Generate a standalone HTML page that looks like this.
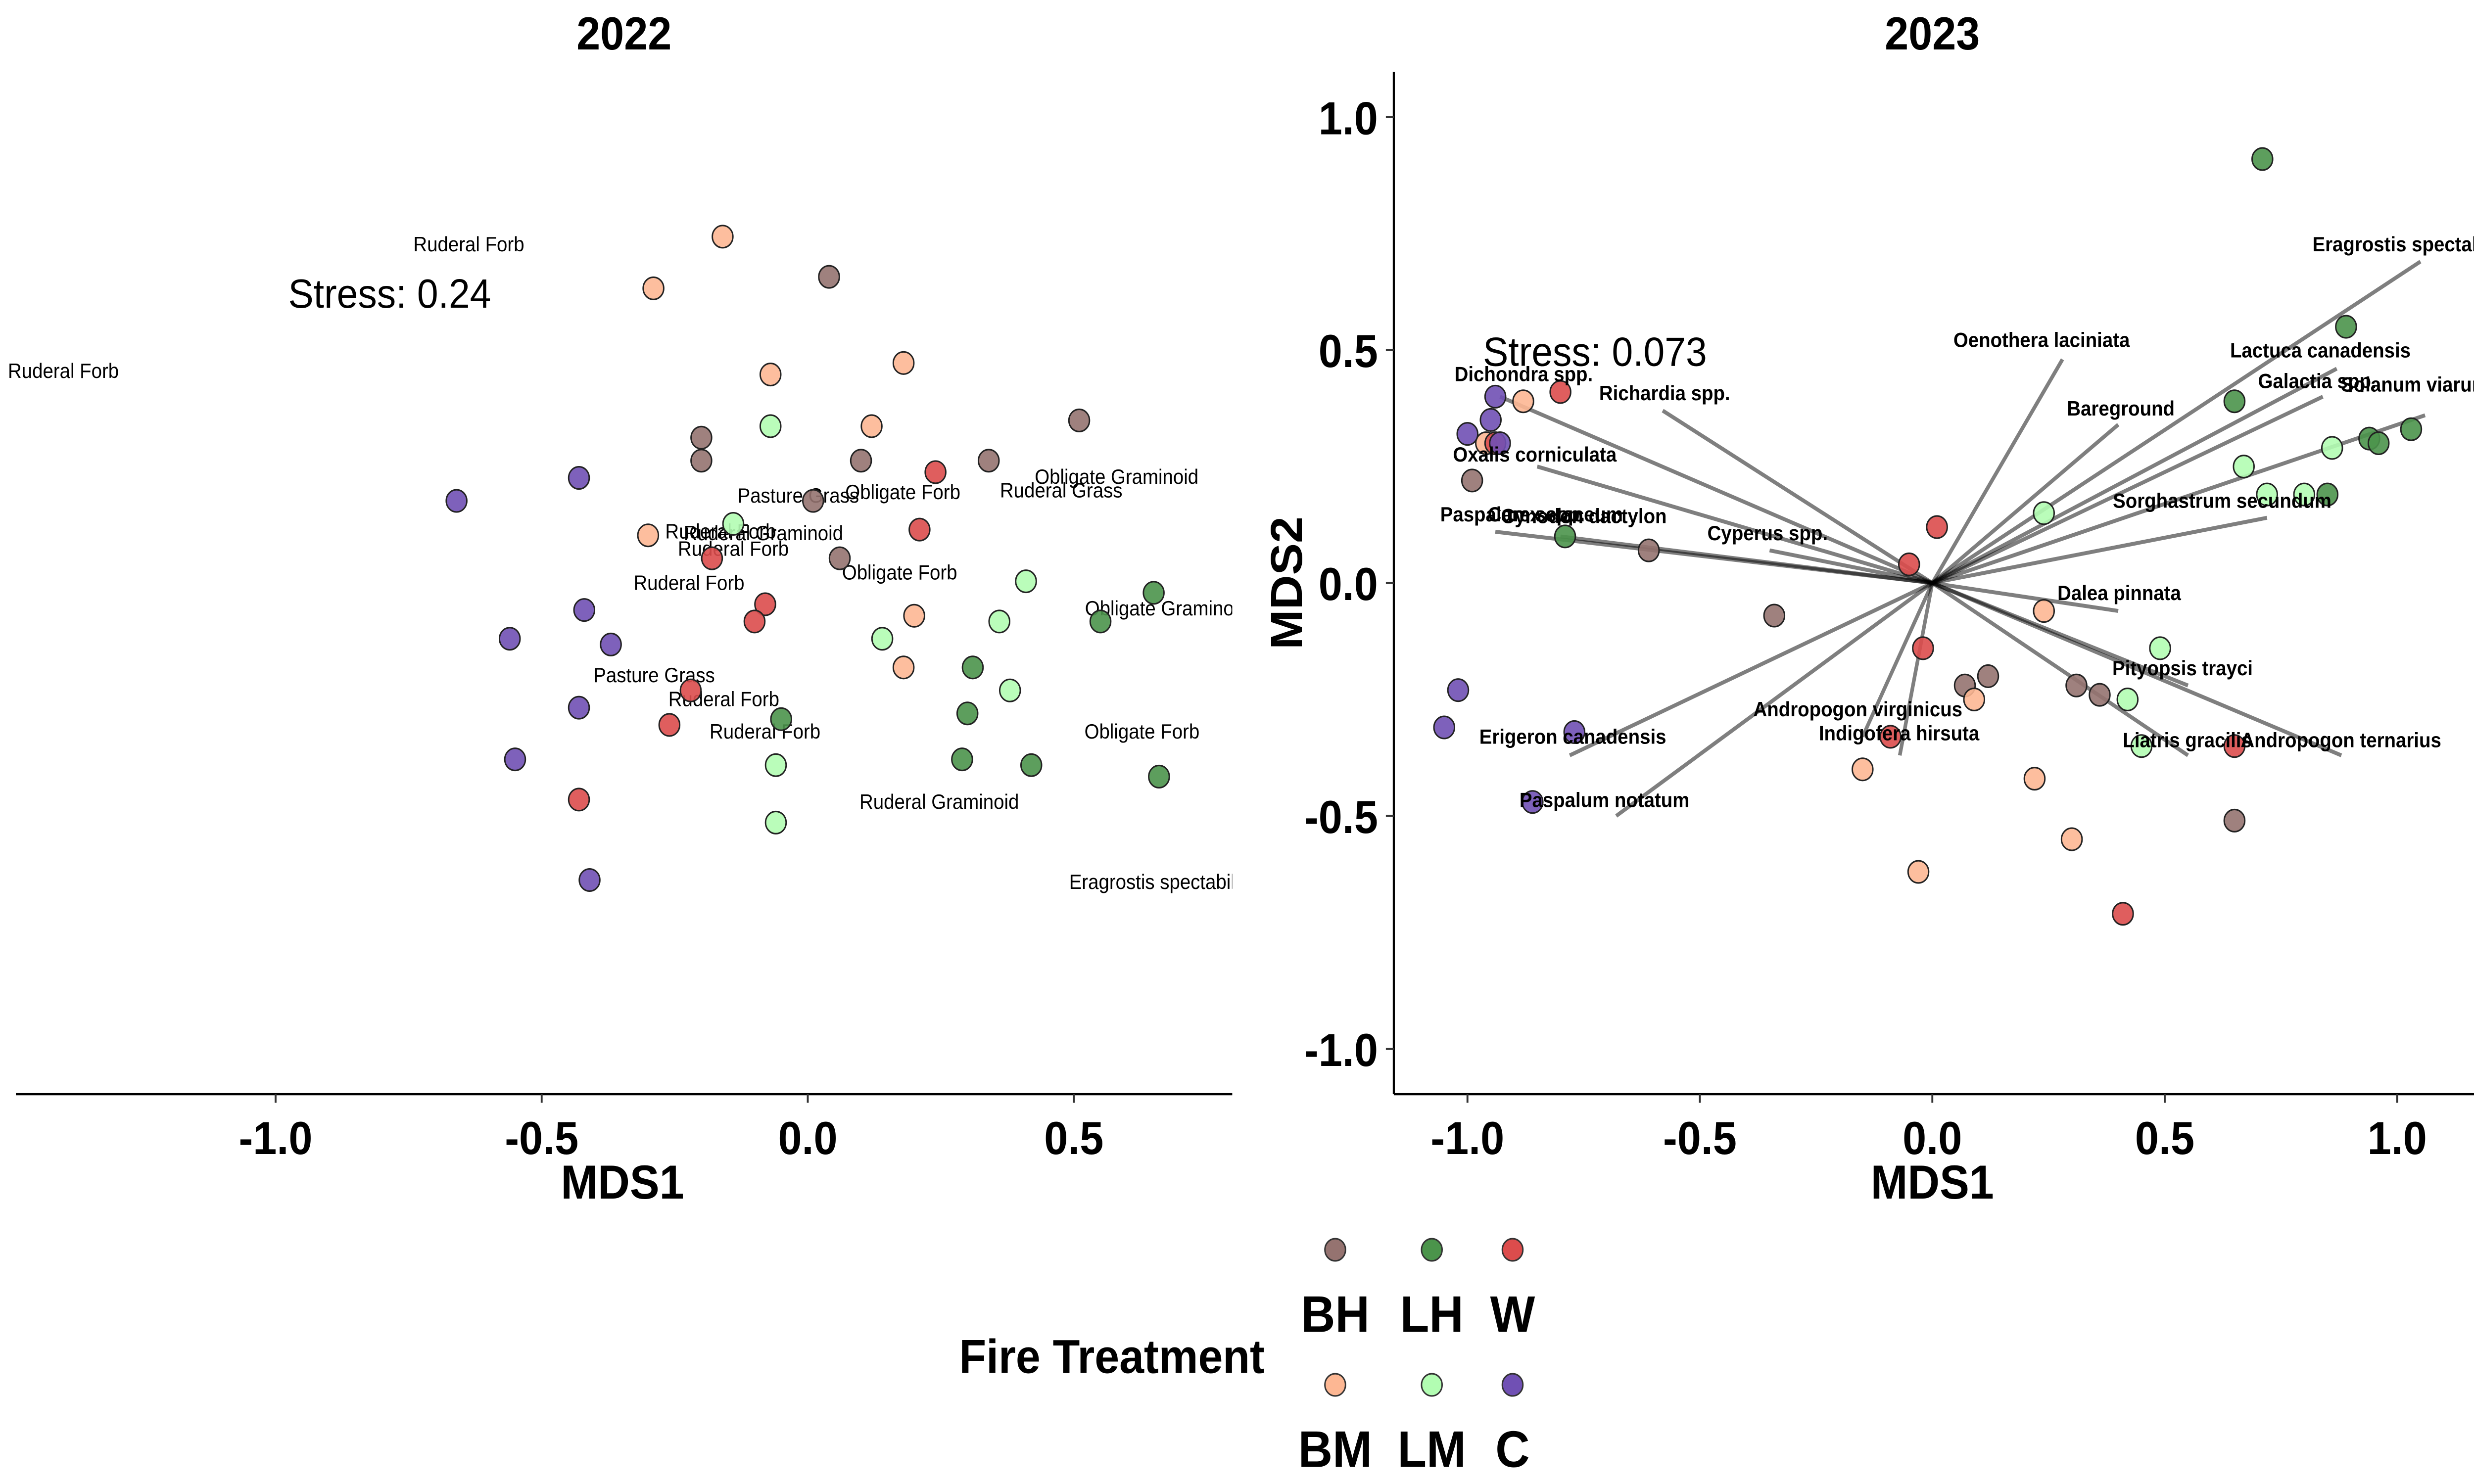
<!DOCTYPE html>
<html><head><meta charset="utf-8"><style>
html,body{margin:0;padding:0;background:#fff;overflow:hidden;width:100%;height:100%;}
svg{display:block;position:fixed;left:0;top:0;width:100vw;height:100vh;}
text{font-family:"Liberation Sans",Arial,sans-serif;}
</style></head><body>
<svg id="chart" viewBox="0 0 1562 868" preserveAspectRatio="none" xmlns="http://www.w3.org/2000/svg">
<defs>
<clipPath id="clipL"><rect x="0" y="30" width="778" height="610"/></clipPath>
<clipPath id="clipR"><rect x="881" y="30" width="681" height="610"/></clipPath>
</defs>
<rect width="1562" height="868" fill="#fff"/>
<g id="left"></g>
<g id="right"></g>
<g id="legend"></g>
</svg>
<script>
const groups = ["BH","BM","W","LH","LM","C"];
const colors = {BH:"#957370",BM:"#fdb793",W:"#dc4c4c",LH:"#4b944b",LM:"#b2fdb2",C:"#7050b4"};
// 2022 scores
const x22_BH=[0.04,-0.20,-0.20,0.10,0.51,0.34,0.01,0.06];
const y22_BH=[0.53,0.25,0.21,0.21,0.28,0.21,0.14,0.04];
const x22_BM=[-0.16,-0.29,-0.07,0.18,0.12,-0.30,0.20,0.18];
const y22_BM=[0.60,0.51,0.36,0.38,0.27,0.08,-0.06,-0.15];
const x22_W=[0.24,0.21,-0.18,-0.08,-0.10,-0.22,-0.26,-0.43];
const y22_W=[0.19,0.09,0.04,-0.04,-0.07,-0.19,-0.25,-0.38];
const x22_LH=[0.55,0.65,0.31,0.30,-0.05,0.29,0.42,0.66];
const y22_LH=[-0.07,-0.02,-0.15,-0.23,-0.24,-0.31,-0.32,-0.34];
const x22_LM=[-0.07,-0.14,0.41,0.36,0.14,0.38,-0.06,-0.06];
const y22_LM=[0.27,0.10,0.00,-0.07,-0.10,-0.19,-0.32,-0.42];
const x22_C=[-0.66,-0.43,-0.42,-0.37,-0.56,-0.43,-0.55,-0.41];
const y22_C=[0.14,0.18,-0.05,-0.11,-0.10,-0.22,-0.31,-0.52];
// 2023 scores
const x23_BH=[-0.99,-0.61,-0.34,0.07,0.12,0.31,0.36,0.65];
const y23_BH=[0.22,0.07,-0.07,-0.22,-0.20,-0.22,-0.24,-0.51];
const x23_BM=[-0.88,-0.96,0.24,0.09,-0.15,0.22,0.30,-0.03];
const y23_BM=[0.39,0.30,-0.06,-0.25,-0.40,-0.42,-0.55,-0.62];
const x23_W=[-0.80,0.01,-0.05,-0.02,-0.09,0.65,0.41,-0.94];
const y23_W=[0.41,0.12,0.04,-0.14,-0.33,-0.35,-0.71,0.30];
const x23_LH=[0.71,0.89,0.65,0.94,0.96,1.03,0.85,-0.79];
const y23_LH=[0.91,0.55,0.39,0.31,0.30,0.33,0.19,0.10];
const x23_LM=[0.67,0.86,0.72,0.80,0.24,0.49,0.42,0.45];
const y23_LM=[0.25,0.29,0.19,0.19,0.15,-0.14,-0.25,-0.35];
const x23_C=[-0.94,-0.95,-0.93,-1.00,-1.02,-1.05,-0.77,-0.86];
const y23_C=[0.40,0.35,0.30,0.32,-0.23,-0.31,-0.32,-0.47];
// 2023 species vectors
const vecNames=["Eragrostis spectabilis","Oenothera laciniata","Lactuca canadensis","Galactia spp.","Solanum viarum","Bareground","Dichondra spp.","Richardia spp.","Oxalis corniculata","Paspalum setaceum","Cynodon dactylon","Cyperus spp.","Sorghastrum secundum","Dalea pinnata","Pityopsis trayci","Andropogon virginicus","Indigofera hirsuta","Liatris gracilis","Andropogon ternarius","Erigeron canadensis","Paspalum notatum"];
const vecX=[1.05,0.28,0.87,0.84,1.06,0.40,-0.93,-0.58,-0.85,-0.94,-0.80,-0.35,0.72,0.40,0.55,-0.15,-0.07,0.55,0.88,-0.78,-0.68];
const vecY=[0.69,0.48,0.46,0.40,0.36,0.34,0.40,0.37,0.25,0.11,0.10,0.07,0.14,-0.06,-0.22,-0.33,-0.37,-0.37,-0.37,-0.37,-0.50];
const xTicks=[-1.0,-0.5,0.0,0.5,1.0];
const xTickLabels=["-1.0","-0.5","0.0","0.5","1.0"];
const yTicks=[1.0,0.5,0.0,-0.5,-1.0];
const yTickLabels=["1.0","0.5","0.0","-0.5","-1.0"];

const NS="http://www.w3.org/2000/svg";
function mk(parent,tag,attrs,txt){const e=document.createElementNS(NS,tag);for(const k in attrs)e.setAttribute(k,attrs[k]);if(txt!==undefined)e.textContent=txt;parent.appendChild(e);return e;}
const d22={BH:[x22_BH,y22_BH],BM:[x22_BM,y22_BM],W:[x22_W,y22_W],LH:[x22_LH,y22_LH],LM:[x22_LM,y22_LM],C:[x22_C,y22_C]};
const d23={BH:[x23_BH,y23_BH],BM:[x23_BM,y23_BM],W:[x23_W,y23_W],LH:[x23_LH,y23_LH],LM:[x23_LM,y23_LM],C:[x23_C,y23_C]};

// ---- Left panel
const L=document.getElementById('left');
const lx=v=>510+v*336, ly=v=>340-v*336;
let t=mk(L,'text',{x:394,y:29,'text-anchor':'middle','font-size':27,'font-weight':'bold'},'2022');


let ax=mk(L,'line',{x1:10,y1:640,x2:778,y2:640,stroke:'#000','stroke-width':1.3});


xTicks.forEach((v,i)=>{if(v>0.8)return;
 const tk=mk(L,'line',{x1:lx(v),y1:640,x2:lx(v),y2:645,stroke:'#333','stroke-width':1.2});
 
 
 const tl=mk(L,'text',{x:lx(v),y:675,'text-anchor':'middle','font-size':27,'font-weight':'bold'},xTickLabels[i]);
 
 });
t=mk(L,'text',{x:393,y:701,'text-anchor':'middle','font-size':28,'font-weight':'bold'},'MDS1');


const gl=mk(L,'g',{'clip-path':'url(#clipL)'});
const lbl22=[["Ruderal Forb",296,147,'middle'],["Ruderal Forb",5,221,'start'],["Pasture Grass",504,294,'middle'],["Obligate Forb",570,292,'middle'],["Ruderal Grass",670,291,'middle'],["Obligate Graminoid",705,283,'middle'],["Ruderal Forb",455,315,'middle'],["Ruderal Graminoid",482,316,'middle'],["Ruderal Forb",463,325,'middle'],["Obligate Forb",568,339,'middle'],["Ruderal Forb",435,345,'middle'],["Obligate Graminoid",685,360,'start'],["Pasture Grass",413,399,'middle'],["Ruderal Forb",457,413,'middle'],["Ruderal Forb",483,432,'middle'],["Obligate Forb",721,432,'middle'],["Ruderal Graminoid",593,473,'middle'],["Eragrostis spectabilis",675,520,'start']];
lbl22.forEach(a=>{const e=mk(gl,'text',{x:a[1],y:a[2],'text-anchor':a[3],'font-size':12},a[0]);
 
 });
t=mk(gl,'text',{x:246,y:180,'text-anchor':'middle','font-size':24},'Stress: 0.24');


groups.forEach(g=>{const [xs,ys]=d22[g];xs.forEach((v,i)=>{
 const c=mk(gl,'circle',{cx:lx(v),cy:ly(ys[i]),r:6.5,fill:colors[g],'fill-opacity':0.9,stroke:'#222','stroke-width':0.9});
 
 });});

// ---- Right panel
const R=document.getElementById('right');
const rx=v=>1220+v*293.5, ry=v=>341-v*272.5;
t=mk(R,'text',{x:1220,y:29,'text-anchor':'middle','font-size':27,'font-weight':'bold'},'2023');


ax=mk(R,'line',{x1:880,y1:640,x2:1562,y2:640,stroke:'#000','stroke-width':1.3});


ax=mk(R,'line',{x1:880,y1:42,x2:880,y2:640,stroke:'#000','stroke-width':1.3});


xTicks.forEach((v,i)=>{
 const tk=mk(R,'line',{x1:rx(v),y1:640,x2:rx(v),y2:645,stroke:'#333','stroke-width':1.2});
 
 
 const tl=mk(R,'text',{x:rx(v),y:675,'text-anchor':'middle','font-size':27,'font-weight':'bold'},xTickLabels[i]);
 
 });
yTicks.forEach((v,i)=>{
 const tk=mk(R,'line',{x1:875,y1:ry(v),x2:880,y2:ry(v),stroke:'#333','stroke-width':1.2});
 
 
 const tl=mk(R,'text',{x:870,y:ry(v)+10,'text-anchor':'end','font-size':27,'font-weight':'bold'},yTickLabels[i]);
 
 });
t=mk(R,'text',{x:1220,y:701,'text-anchor':'middle','font-size':28,'font-weight':'bold'},'MDS1');


t=mk(R,'text',{x:0,y:0,'text-anchor':'middle','font-size':28,'font-weight':'bold',transform:'translate(822,341) rotate(-90)'},'MDS2');


const gr=mk(R,'g',{'clip-path':'url(#clipR)'});
t=mk(gr,'text',{x:1007,y:214,'text-anchor':'middle','font-size':24},'Stress: 0.073');


vecX.forEach((v,i)=>{
 const ln=mk(gr,'line',{x1:rx(0),y1:ry(0),x2:rx(v),y2:ry(vecY[i]),stroke:'#000','stroke-opacity':0.5,'stroke-width':2.3});
 
 });
groups.forEach(g=>{const [xs,ys]=d23[g];xs.forEach((v,i)=>{
 const c=mk(gr,'circle',{cx:rx(v),cy:ry(ys[i]),r:6.5,fill:colors[g],'fill-opacity':0.9,stroke:'#222','stroke-width':0.9});
 
 });});
const lbl23=[[1460,147,'start'],[1289,203,'middle'],[1465,209,'middle'],[1463,227,'middle'],[1478,229,'start'],[1339,243,'middle'],[962,223,'middle'],[1051,234,'middle'],[969,270,'middle'],[967,305,'middle'],[1000,306,'middle'],[1116,316,'middle'],[1403,297,'middle'],[1338,351,'middle'],[1378,395,'middle'],[1173,419,'middle'],[1199,433,'middle'],[1381,437,'middle'],[1478,437,'middle'],[993,435,'middle'],[1013,472,'middle']];
vecNames.forEach((n,i)=>{const a=lbl23[i];
 const e=mk(gr,'text',{x:a[0],y:a[1],'text-anchor':a[2],'font-size':12,'font-weight':'bold'},n);
 
 });
t=mk(gr,'text',{x:970,y:305,'text-anchor':'middle','font-size':12,'font-weight':'bold'},'Carex spp.');



// ---- Legend
const G=document.getElementById('legend');
t=mk(G,'text',{x:702,y:803,'text-anchor':'middle','font-size':28,'font-weight':'bold'},'Fire Treatment');


const legRows=[["BH","LH","W"],["BM","LM","C"]];
const legX=[843,904,955], legY=[731,810];
legRows.forEach((row,r)=>row.forEach((g,c)=>{
 const dot=mk(G,'circle',{cx:legX[c],cy:legY[r],r:6.5,fill:colors[g],stroke:'#333','stroke-width':0.9});
 
 
 const tx=mk(G,'text',{x:legX[c],y:legY[r]+48,'text-anchor':'middle','font-size':30,'font-weight':'bold'},g);
 
 }));
</script>
</body></html>
